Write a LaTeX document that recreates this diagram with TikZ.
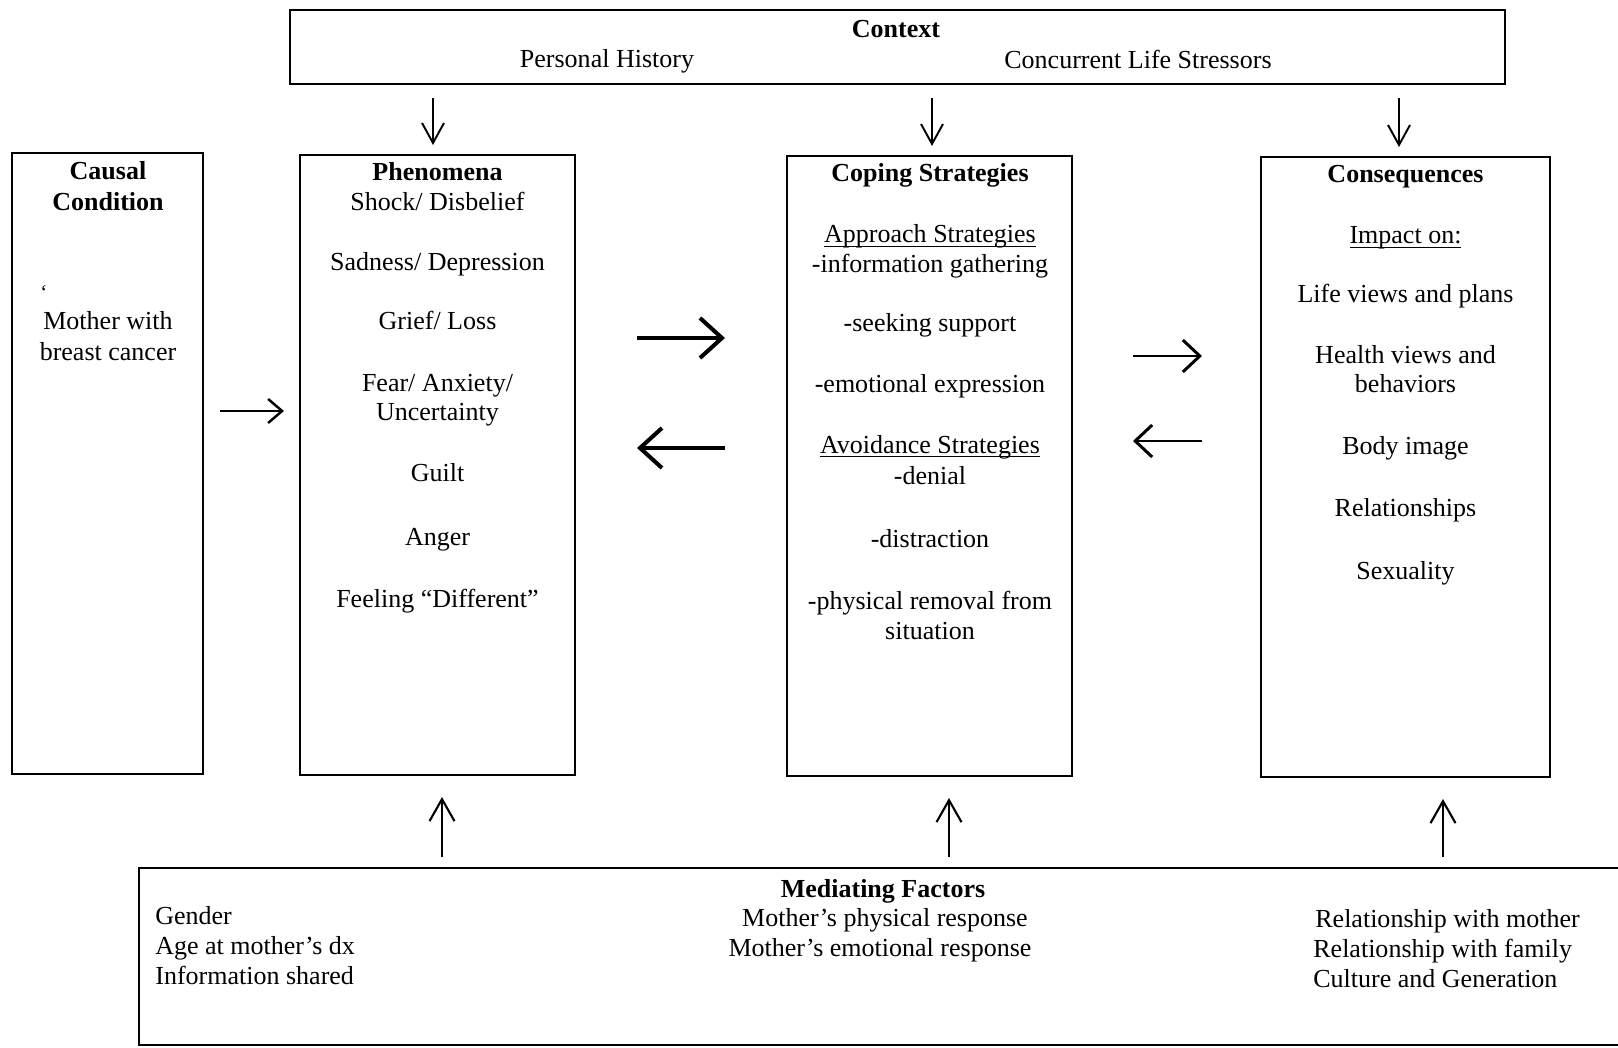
\documentclass[tikz,border=0pt]{standalone}
\usepackage{fontspec}
\setmainfont{Liberation Serif}
\usetikzlibrary{arrows.meta}
\newcommand{\ulin}[1]{\setbox0\hbox{#1}\rlap{\rule[-2.2pt]{\wd0}{0.7pt}}\box0}
\begin{document}
\begin{tikzpicture}[x=0.2mm, y=-0.2mm,
  box/.style={draw, line width=1.1pt, inner sep=0pt, outer sep=0pt},
  txt/.style={anchor=base, inner sep=0pt, font=\fontsize{14.8}{17}\selectfont},
  hd/.style={txt, font=\fontsize{14.8}{17}\selectfont\bfseries},
  arr/.style={line width=1.1pt, -{Straight Barb[length=4mm, width=4.4mm]}},
  uparr/.style={line width=1.2pt, -{Straight Barb[length=4.4mm, width=5mm]}},
  bigarr/.style={line width=2.3pt, -{Straight Barb[length=4.4mm, width=8mm]}},
  midarr/.style={line width=1.7pt, -{Straight Barb[length=3.4mm, width=6.4mm]}}]
\useasboundingbox (0,0) rectangle (1618,1048);
\clip (0,0) rectangle (1618,1048);
% Boxes
\node[box, minimum width=243mm, minimum height=14.8mm] (ctx) at (897.5,47) {};
\node[box, minimum width=38.2mm, minimum height=124.2mm] (cause) at (107.5,463.5) {};
\node[box, minimum width=55mm, minimum height=124mm] (phen) at (437.5,465) {};
\node[box, minimum width=57mm, minimum height=124mm] (cope) at (929.5,466) {};
\node[box, minimum width=57.8mm, minimum height=124mm] (cons) at (1405.5,467) {};
\node[box, minimum width=300.2mm, minimum height=35.4mm] (med) at (889.5,956.5) {};
% --- Context ---
\node[hd] (ctxhd) at (896,38) {Context};
\node[txt] (ctx1) at (607,68) {Personal History};
\node[txt] (ctx2) at (1138,69) {Concurrent Life Stressors};
% --- Causal condition ---
\node[hd] (causehd1) at (108,180) {Causal};
\node[hd] (causehd2) at (108,211) {Condition};
\node[txt, font=\fontsize{12}{13}\selectfont] (tick) at (44,300) {‘};
\node[txt] (cause1) at (108,330) {Mother with};
\node[txt] (cause2) at (108,360) {breast cancer};
% --- Phenomena ---
\node[hd] (phenhd) at (437.5,181) {Phenomena};
\node[txt] (phen1) at (437.5,211) {Shock/ Disbelief};
\node[txt] (phen2) at (437.5,271) {Sadness/ Depression};
\node[txt] (phen3) at (437.5,330) {Grief/ Loss};
\node[txt] (phen4) at (437.5,391) {Fear/ Anxiety/};
\node[txt] (phen5) at (437.5,421) {Uncertainty};
\node[txt] (phen6) at (437.5,481) {Guilt};
\node[txt] (phen7) at (437.5,545) {Anger};
\node[txt] (phen8) at (437.5,607) {Feeling “Different”};
% --- Coping strategies ---
\node[hd] (copehd) at (930,182) {Coping Strategies};
\node[txt] (cope1) at (930,243) {\ulin{Approach Strategies}};
\node[txt] (cope2) at (930,273) {-information gathering};
\node[txt] (cope3) at (930,332) {-seeking support};
\node[txt] (cope4) at (930,393) {-emotional expression};
\node[txt] (cope5) at (930,453) {\ulin{Avoidance Strategies}};
\node[txt] (cope6) at (930,484) {-denial};
\node[txt] (cope7) at (930,547) {-distraction};
\node[txt] (cope8) at (930,609) {-physical removal from};
\node[txt] (cope9) at (930,639) {situation};
% --- Consequences ---
\node[hd] (conshd) at (1405.5,183) {Consequences};
\node[txt] (cons1) at (1405.5,244) {\ulin{Impact on:}};
\node[txt] (cons2) at (1405.5,303) {Life views and plans};
\node[txt] (cons3) at (1405.5,363) {Health views and};
\node[txt] (cons4) at (1405.5,393) {behaviors};
\node[txt] (cons5) at (1405.5,454) {Body image};
\node[txt] (cons6) at (1405.5,516) {Relationships};
\node[txt] (cons7) at (1405.5,579) {Sexuality};
% --- Mediating factors ---
\node[hd] (medhd) at (883,897) {Mediating Factors};
\node[txt] (med1) at (885,926) {Mother’s physical response};
\node[txt] (med2) at (880,956) {Mother’s emotional response};
\node[txt, anchor=base west] (medl1) at (155,924) {Gender};
\node[txt, anchor=base west] (medl2) at (155,954) {Age at mother’s dx};
\node[txt, anchor=base west] (medl3) at (155,984) {Information shared};
\node[txt, anchor=base west] (medr1) at (1315,927) {Relationship with mother};
\node[txt, anchor=base west] (medr2) at (1313,957) {Relationship with family};
\node[txt, anchor=base west] (medr3) at (1313,987) {Culture and Generation};
% Arrows from context
\draw[arr, shorten <=2.8mm, shorten >=2mm] ([xshift=-0.9mm]ctx.south -| phen.north) -- ([xshift=-0.9mm]phen.north);
\draw[arr, shorten <=2.8mm, shorten >=2mm] ([xshift=0.5mm]ctx.south -| cope.north) -- ([xshift=0.5mm]cope.north);
\draw[arr, shorten <=2.8mm, shorten >=2mm] ([xshift=-1.3mm]ctx.south -| cons.north) -- ([xshift=-1.3mm]cons.north);
% Arrows from mediating factors
\draw[uparr, shorten <=2.2mm, shorten >=4.4mm] ([xshift=0.9mm]phen.south |- med.north) -- ([xshift=0.9mm]phen.south);
\draw[uparr, shorten <=2.2mm, shorten >=4.4mm] ([xshift=3.9mm]cope.south |- med.north) -- ([xshift=3.9mm]cope.south);
\draw[uparr, shorten <=2.2mm, shorten >=4.4mm] ([xshift=7.5mm]cons.south |- med.north) -- ([xshift=7.5mm]cons.south);
% Horizontal arrows
\draw[line width=1.4pt, -{Straight Barb[length=2.8mm, width=4.8mm]}, shorten <=3.4mm, shorten >=3.2mm]
  ([yshift=10.5mm]cause.east) -- ([yshift=10.5mm]cause.east -| phen.west);
\draw[bigarr, shorten <=12.4mm, shorten >=12.4mm] ([yshift=25.4mm]phen.east) -- ([yshift=25.4mm]phen.east -| cope.west);
\draw[bigarr, shorten <=12.4mm, shorten >=12.4mm] ([yshift=3.4mm]phen.east -| cope.west) -- ([yshift=3.4mm]phen.east);
\draw[midarr, shorten <=12.2mm, shorten >=11.8mm] ([yshift=22mm]cope.east) -- ([yshift=22mm]cope.east -| cons.west);
\draw[midarr, shorten <=11.8mm, shorten >=12.2mm] ([yshift=5mm]cope.east -| cons.west) -- ([yshift=5mm]cope.east);
\end{tikzpicture}
\end{document}
